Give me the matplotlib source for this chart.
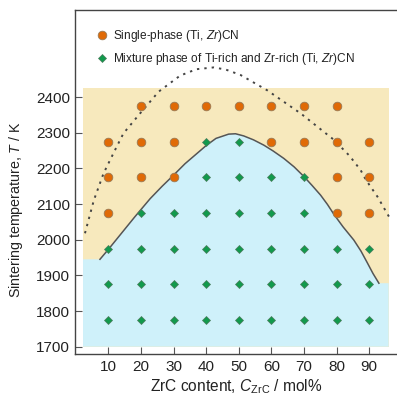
import matplotlib
matplotlib.use("Agg")
import matplotlib.pyplot as plt
from matplotlib.lines import Line2D

plt.rcParams['font.family'] = ['Liberation Sans', 'DejaVu Sans']
plt.rcParams['mathtext.fontset'] = 'custom'
plt.rcParams['mathtext.rm'] = 'Liberation Sans'
plt.rcParams['mathtext.it'] = 'Liberation Sans:italic'

# ---- data ----
single_x = [20, 30, 40, 50, 60, 70, 80,
            10, 20, 30, 60, 70, 80, 90,
            10, 20, 30, 80, 90,
            10, 80, 90]
single_T = [2375] * 7 + [2275] * 7 + [2175] * 5 + [2075] * 3

mix_x = [40, 50,
         40, 50, 60, 70,
         20, 30, 40, 50, 60, 70,
         10, 20, 30, 40, 50, 60, 70, 80, 90,
         10, 20, 30, 40, 50, 60, 70, 80, 90,
         10, 20, 30, 40, 50, 60, 70, 80, 90]
mix_T = [2275] * 2 + [2175] * 4 + [2075] * 6 + [1975] * 9 + [1875] * 9 + [1775] * 9

# solid boundary curve
bound_x = [7.4, 10, 14, 18, 22.8, 26.5, 30, 33.5, 37.2, 40, 43, 46.9, 49, 51.5,
           54.5, 57.7, 60.5, 63.8, 67, 70, 72.5, 75.1, 77.2, 79.2, 82, 85.3, 87.5,
           89.4, 91.2, 93]
bound_T = [1945, 1973, 2018, 2063, 2115, 2150, 2181, 2213, 2242, 2264, 2284, 2296,
           2297, 2291, 2280, 2265, 2249, 2228, 2204, 2177, 2152, 2125, 2099, 2071,
           2036, 1999, 1968, 1936, 1905, 1878]

# dotted curve
dot_x = [2.8, 5.5, 8.5, 12.0, 14.6, 19.7, 25.4, 32.0, 37, 42.3, 46, 50.5, 58.7,
         69.0, 79.2, 84, 87.4, 89.0, 92.6, 96.7]
dot_T = [2018, 2110, 2186, 2251, 2298, 2354, 2415, 2460, 2478, 2483, 2477, 2462,
         2419, 2354, 2280, 2235, 2195, 2168, 2120, 2055]

# shaded region extents
region_x = [2.2, 96.0]
region_T = [1700, 2425]
blue_left_T = 1945
blue_right_T = 1878

xticks = [10, 20, 30, 40, 50, 60, 70, 80, 90]
yticks = [1700, 1800, 1900, 2000, 2100, 2200, 2300, 2400]

# ---- figure ----
fig = plt.figure(figsize=(3.97, 3.96), dpi=100)
ax = fig.add_axes([75 / 397, 1 - 354 / 396, 1 - 75 / 397 + 0.002, (354 - 10) / 396])
ax.set_xlim(-0.26, 98.8)
ax.set_ylim(1679.5, 2644)

beige = '#f7e9bd'
blue = '#cff1fa'
ax.fill([region_x[0], region_x[1], region_x[1], region_x[0]],
        [region_T[0], region_T[0], region_T[1], region_T[1]],
        color=beige, lw=0, zorder=0)
bx = [region_x[0], region_x[0]] + bound_x + [region_x[1], region_x[1]]
bT = [region_T[0], blue_left_T] + bound_T + [blue_right_T, region_T[0]]
ax.fill(bx, bT, color=blue, lw=0, zorder=1)

ax.plot(bound_x, bound_T, color='#555555', lw=1.1, zorder=2)
ax.plot(dot_x, dot_T, color='#444444', lw=1.4, ls=(0, (1.2, 2.6)), zorder=2)

ax.plot(single_x, single_T, 'o', ms=6.2, mfc='#e06a06', mec='#9a7a55', mew=0.6,
        ls='none', zorder=3)
ax.plot(mix_x, mix_T, 'D', ms=4.2, mfc='#119a4c', mec='#4d7a5d', mew=0.5,
        ls='none', zorder=3)

handles = [
    Line2D([], [], marker='o', ms=6.2, mfc='#e06a06', mec='#9a7a55', mew=0.6, ls='none'),
    Line2D([], [], marker='D', ms=4.2, mfc='#119a4c', mec='#4d7a5d', mew=0.5, ls='none'),
]
labels = ['Single-phase (Ti, $\\mathit{Zr}$)CN',
          'Mixture phase of Ti-rich and Zr-rich (Ti, $\\mathit{Zr}$)CN']
leg = ax.legend(handles, labels, loc='upper left', bbox_to_anchor=(0.068, 0.948),
                frameon=False, fontsize=8.6, handlelength=0.8, handletextpad=0.57,
                labelspacing=0.58, borderaxespad=0, borderpad=0)
for t in leg.get_texts():
    t.set_color('#222222')

ax.set_xticks(xticks)
ax.set_yticks(yticks)
ax.tick_params(direction='in', length=5, width=0.8, labelsize=11, color='#555555',
               labelcolor='#222222')
ax.tick_params(axis='y', pad=3.5)
ax.tick_params(axis='x', pad=4.5)
for s in ['left', 'bottom', 'top']:
    ax.spines[s].set_color('#444444')
    ax.spines[s].set_linewidth(1.0)
ax.spines['right'].set_visible(False)

ax.set_xlabel('ZrC content, $\\mathit{C}_{\\mathrm{ZrC}}$ / mol%', fontsize=11.2,
              color='#222222', labelpad=2)
ax.set_ylabel('Sintering temperature, $\\mathit{T}$ / K', fontsize=10.3,
              color='#222222')
ax.yaxis.set_label_coords(-0.155, 0.419)

fig.savefig('out.png', dpi=100)
